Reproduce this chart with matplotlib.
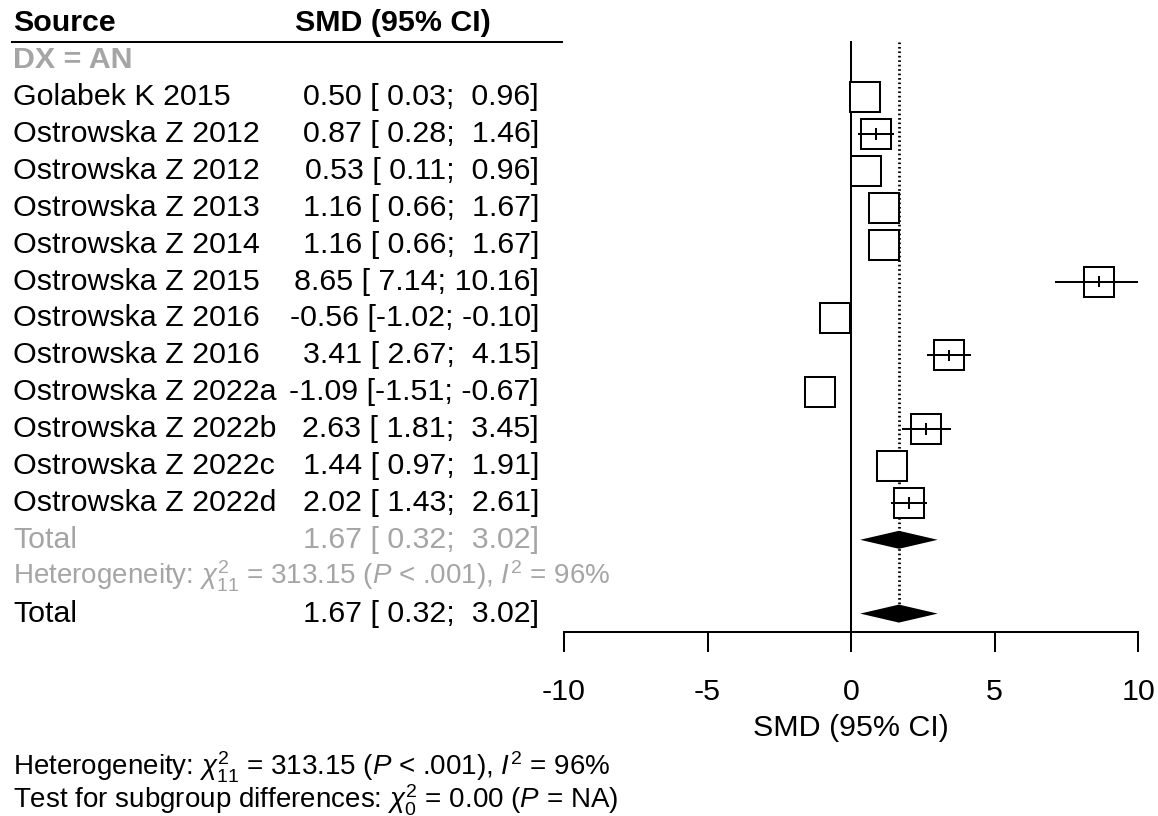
import matplotlib
matplotlib.use("Agg")
import matplotlib.pyplot as plt
import matplotlib.transforms as mtransforms

plt.rcParams["font.family"] = ["Liberation Sans", "DejaVu Sans"]
plt.rcParams["mathtext.fontset"] = "custom"
plt.rcParams["mathtext.rm"] = "Liberation Sans"
plt.rcParams["mathtext.it"] = "Liberation Sans:italic"
plt.rcParams["mathtext.bf"] = "Liberation Sans:bold"

# ---- data ----
studies = ["Golabek K 2015", "Ostrowska Z 2012", "Ostrowska Z 2012", "Ostrowska Z 2013",
           "Ostrowska Z 2014", "Ostrowska Z 2015", "Ostrowska Z 2016", "Ostrowska Z 2016",
           "Ostrowska Z 2022a", "Ostrowska Z 2022b", "Ostrowska Z 2022c", "Ostrowska Z 2022d"]
smd = [0.50, 0.87, 0.53, 1.16, 1.16, 8.65, -0.56, 3.41, -1.09, 2.63, 1.44, 2.02]
ci_low = [0.03, 0.28, 0.11, 0.66, 0.66, 7.14, -1.02, 2.67, -1.51, 1.81, 0.97, 1.43]
ci_high = [0.96, 1.46, 0.96, 1.67, 1.67, 10.16, -0.10, 4.15, -0.67, 3.45, 1.91, 2.61]
pooled = 1.67
pooled_low = 0.32
pooled_high = 3.02
x_ticks = [-10, -5, 0, 5, 10]
subgroup_label = "DX = AN"
het_text = r"Heterogeneity: $\chi^2_{11}$ = 313.15 ($P$ < .001), $I^2$ = 96%"
subgroup_test_text = r"Test for subgroup differences: $\chi^2_{0}$ = 0.00 ($P$ = NA)"

# ---- layout ----
W, H = 1158, 816
DPI = 100
ROW0_PX, ROW_PX = 97, 36.9          # pixel y of first study row and row pitch
X_LEFT_PX, X_RIGHT_PX = 564, 1138   # pixel x of -10 and 10
FS = 21.9
FS_SMALL = 20
GREY = "#a5a5a5"
LW = 1.45

def fx(px):
    return px / W

def row_of(py):
    return (py - ROW0_PX) / ROW_PX

fig = plt.figure(figsize=(W / DPI, H / DPI), dpi=DPI)
ax = fig.add_axes([fx(X_LEFT_PX), 0, fx(X_RIGHT_PX - X_LEFT_PX), 1])
ax.set_xlim(-10, 10)
ax.set_ylim(row_of(H), row_of(0))
ax.patch.set_visible(False)

px_per_unit = (X_RIGHT_PX - X_LEFT_PX) / 20.0
box_half_px = 15
box_half_x = box_half_px / px_per_unit
box_half_y = box_half_px / ROW_PX

axis_row = row_of(632)
top_row = -1.5

# axis
for s in ["top", "right", "left"]:
    ax.spines[s].set_visible(False)
ax.spines["bottom"].set_position(("data", axis_row))
ax.spines["bottom"].set_bounds(-10, 10)
ax.spines["bottom"].set_linewidth(LW)
ax.set_xticks(x_ticks)
ax.set_xticklabels([str(t) for t in x_ticks])
ax.tick_params(axis="x", direction="out", length=14.4, width=LW, labelsize=FS, pad=19)
ax.set_yticks([])
ax.text(0, row_of(728), "SMD (95% CI)", ha="center", va="center", fontsize=FS)

# no-effect line and pooled-effect dotted line
n = len(studies)
total_row_sub = n
total_row = n + 2
ax.plot([0, 0], [top_row, axis_row], color="black", lw=LW, zorder=1)
ax.plot([pooled, pooled], [top_row, total_row - 0.25], color="black", lw=2.0,
        linestyle=(0, (0.6, 1.0)), dash_capstyle="butt", zorder=0)

# study boxes and confidence intervals
for i in range(n):
    y = i
    ax.add_patch(plt.Rectangle((smd[i] - box_half_x, y - box_half_y), 2 * box_half_x, 2 * box_half_y,
                               facecolor="white", edgecolor="black", lw=LW, zorder=2))
    if ci_low[i] < smd[i] - box_half_x or ci_high[i] > smd[i] + box_half_x:
        ax.plot([ci_low[i], ci_high[i]], [y, y], color="black", lw=LW, zorder=3)
        ax.plot([smd[i], smd[i]], [y - 0.13, y + 0.13], color="black", lw=LW, zorder=3)

# pooled diamonds
dh = 9 / ROW_PX
for yr in (total_row_sub, total_row):
    ax.fill([pooled_low, pooled, pooled_high, pooled],
            [yr, yr - dh, yr, yr + dh], color="black", lw=0, zorder=3)

# text columns
tr = mtransforms.blended_transform_factory(fig.transFigure, ax.transData)
NAME_X = fx(13)
VAL_X = fx(539)
HEAD_X = fx(295)

def fmt(e, lo, hi):
    return f"{e:.2f} [{lo:5.2f}; {hi:5.2f}]"

ax.text(NAME_X, -2, "Source", transform=tr, fontsize=FS, fontweight="bold", va="center")
ax.text(HEAD_X, -2, "SMD (95% CI)", transform=tr, fontsize=FS, fontweight="bold", va="center")
ax.plot([fx(12), fx(562)], [-1.5, -1.5], transform=tr, color="black", lw=LW, clip_on=False)
ax.text(NAME_X, -1, subgroup_label, transform=tr, fontsize=FS, fontweight="bold",
        color=GREY, va="center")

for i in range(n):
    ax.text(NAME_X, i, studies[i], transform=tr, fontsize=FS, va="center")
    ax.text(VAL_X, i, fmt(smd[i], ci_low[i], ci_high[i]), transform=tr, fontsize=FS,
            va="center", ha="right")

ax.text(NAME_X, total_row_sub, "Total", transform=tr, fontsize=FS, color=GREY, va="center")
ax.text(VAL_X, total_row_sub, fmt(pooled, pooled_low, pooled_high), transform=tr,
        fontsize=FS, color=GREY, va="center", ha="right")
ax.text(NAME_X, n + 1, het_text, transform=tr, fontsize=FS_SMALL, color=GREY, va="center")
ax.text(NAME_X, total_row, "Total", transform=tr, fontsize=FS, va="center")
ax.text(VAL_X, total_row, fmt(pooled, pooled_low, pooled_high), transform=tr,
        fontsize=FS, va="center", ha="right")

ax.text(NAME_X, row_of(767), het_text, transform=tr, fontsize=FS_SMALL, va="center")
ax.text(NAME_X, row_of(800), subgroup_test_text, transform=tr, fontsize=FS_SMALL, va="center")

fig.savefig("out.png", dpi=DPI, facecolor="white")
